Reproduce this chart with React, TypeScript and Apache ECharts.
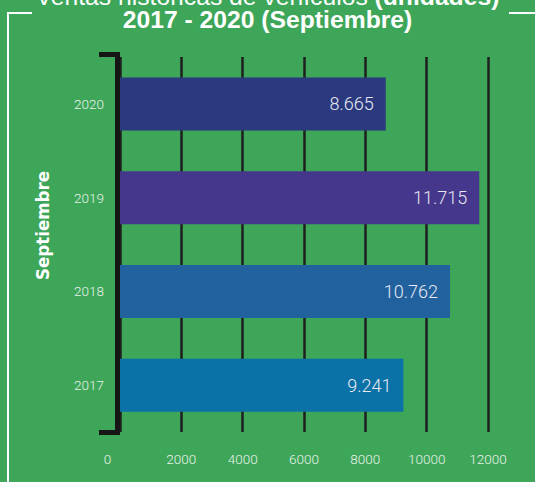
import React, { useEffect, useRef } from "react";
import * as echarts from "echarts";

const years = ["2017", "2018", "2019", "2020"];
const units = [9241, 10762, 11715, 8665];
const barColors = ["#0b72a8", "#21619e", "#45378b", "#2b3a7e"];
const xTicks = { min: 0, max: 12000, interval: 2000 };
const titleLine1 = "Ventas históricas de vehículos ";
const titleLine1Bold = "(unidades)";
const titleLine2 = "2017 - 2020 (Septiembre)";
const axisName = "Septiembre";

export default function App() {
  const ref = useRef<HTMLDivElement>(null);
  useEffect(() => {
    if (!ref.current) return;
    const chart = echarts.init(ref.current, null, { renderer: "svg" });
    chart.setOption({
      animation: false,
      backgroundColor: "#3da659",
      title: [
        {
          text: `{a|${titleLine1}}{b|${titleLine1Bold}}`,
          left: "center",
          top: -14,
          padding: 0,
          textStyle: {
            rich: {
              a: { fontFamily: "Liberation Sans", fontSize: 24.7, lineHeight: 20, color: "#ffffff", fontWeight: "normal" },
              b: { fontFamily: "Liberation Sans", fontSize: 24.7, lineHeight: 20, color: "#ffffff", fontWeight: "bold" },
            },
          },
        },
        {
          text: titleLine2,
          left: "center",
          top: 8.5,
          padding: 0,
          textStyle: { fontFamily: "Liberation Sans", fontSize: 24.7, lineHeight: 22, color: "#ffffff", fontWeight: "bold" },
        },
      ],
      graphic: [
        {
          type: "polyline",
          shape: { points: [[32, 13], [8, 13], [8, 482]] },
          style: { stroke: "#ffffff", lineWidth: 2, fill: null },
          z: 10,
        },
        {
          type: "line",
          shape: { x1: 509, y1: 13, x2: 535, y2: 13 },
          style: { stroke: "#ffffff", lineWidth: 2 },
          z: 10,
        },
        {
          type: "polyline",
          shape: { points: [[99, 54.5], [117.5, 54.5], [117.5, 432.5], [99, 432.5]] },
          style: { stroke: "#161616", lineWidth: 5, fill: null, lineJoin: "miter" },
          z: 10,
        },
      ],
      grid: { left: 120, top: 57, width: 368, height: 375 },
      xAxis: {
        type: "value",
        min: xTicks.min,
        max: xTicks.max,
        interval: xTicks.interval,
        axisLine: { show: false },
        axisTick: { show: false },
        splitLine: { show: true, lineStyle: { color: "#1e1e1e", width: 2.5 } },
        axisLabel: {
          margin: 20,
          color: "#eaf1ea",
          fontFamily: "Roboto",
          fontWeight: 300,
          fontSize: 13.5,
          formatter: (v: number) => (v === 0 ? `{z|0}` : `${v}`),
          rich: {
            z: { padding: [0, 25, 0, 0], color: "#eaf1ea", fontFamily: "Roboto", fontWeight: 300, fontSize: 13.5 },
          },
        },
      },
      yAxis: {
        type: "category",
        data: years,
        axisLine: { show: false },
        axisTick: { show: false },
        axisLabel: {
          margin: 16,
          color: "#eaf1ea",
          fontFamily: "Roboto",
          fontWeight: 300,
          fontSize: 13.5,
        },
        name: axisName,
        nameLocation: "middle",
        nameRotate: 90,
        nameGap: 68,
        nameTextStyle: {
          fontFamily: "'DejaVu Sans Condensed', 'DejaVu Sans', sans-serif",
          fontWeight: "bold",
          fontSize: 18.5,
          color: "#ffffff",
          padding: [0, 0, 0, 38],
        },
      },
      series: [
        {
          type: "bar",
          barWidth: 53,
          data: units.map((v, i) => ({ value: v, itemStyle: { color: barColors[i] } })),
          label: {
            show: true,
            position: "insideRight",
            distance: 12,
            color: "#e8e8f2",
            fontFamily: "Roboto",
            fontWeight: 300,
            fontSize: 18,
            formatter: (p: any) => (p.value / 1000).toFixed(3),
          },
        },
      ],
    });
    return () => chart.dispose();
  }, []);
  return <div ref={ref} style={{ width: 535, height: 482, position: "absolute", left: 0, top: 0 }} />;
}
